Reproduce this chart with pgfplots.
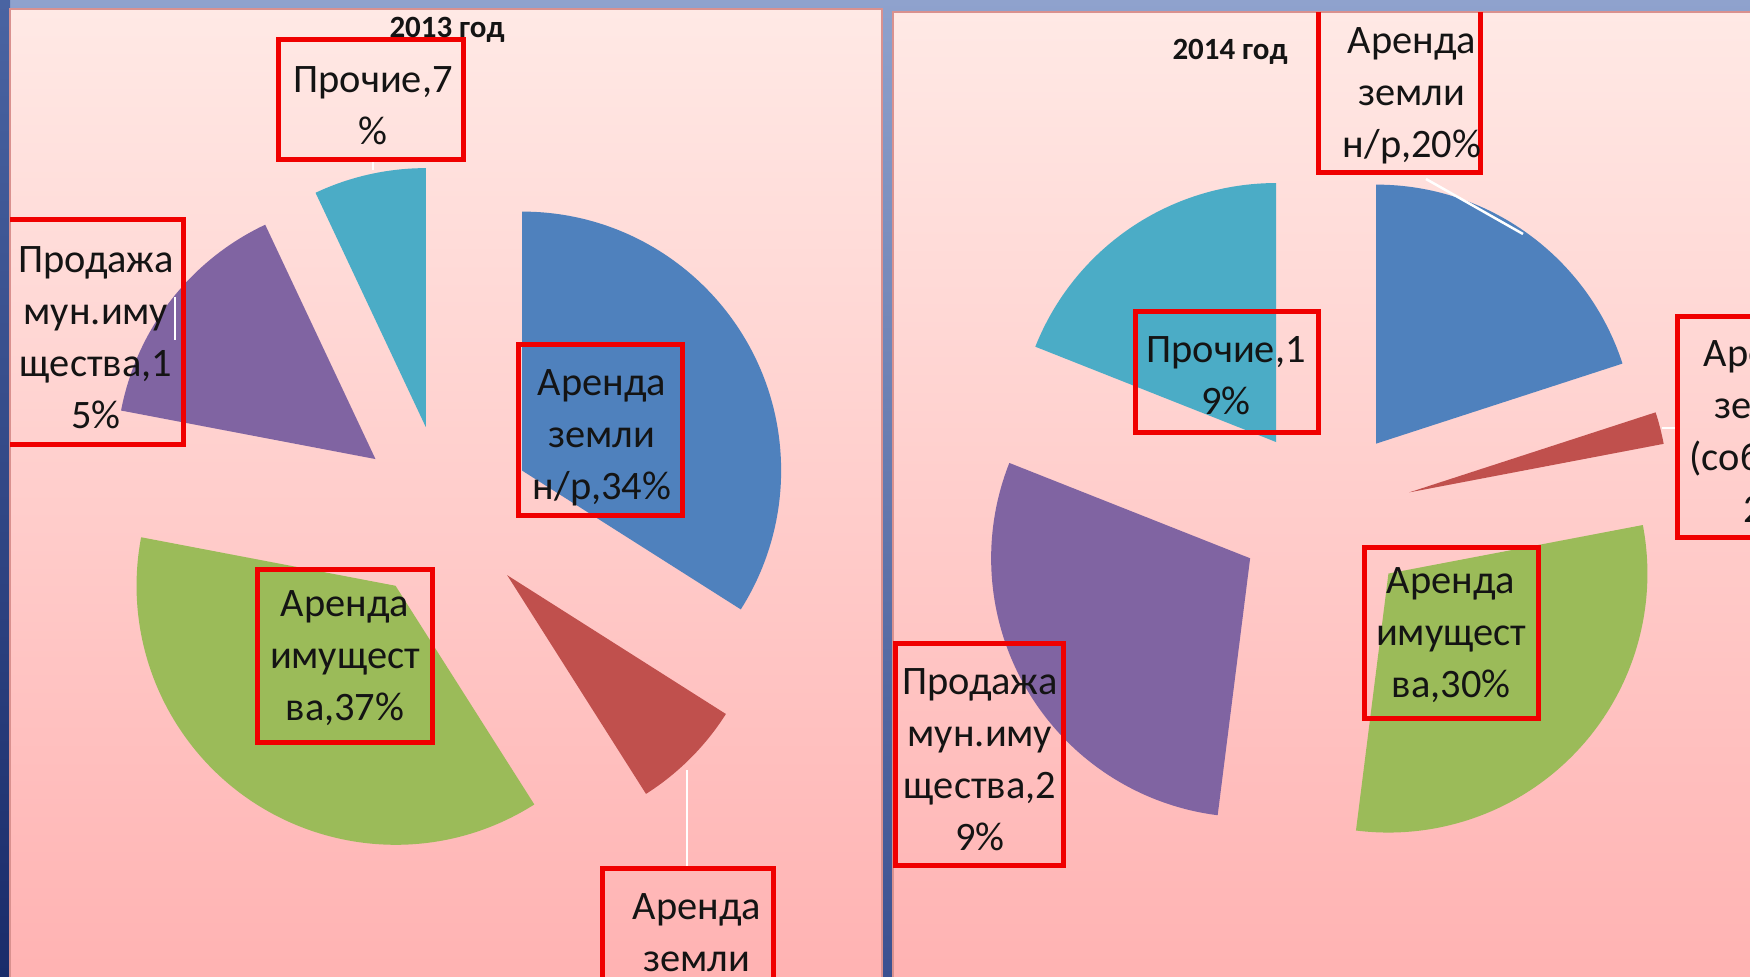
\documentclass[border=0pt]{standalone}
\usepackage{pgfplots}
\pgfplotsset{compat=1.18}
\usetikzlibrary{calc}
\usepackage{fontspec}
\setmainfont{Carlito}

\definecolor{sblue}{HTML}{4F81BD}
\definecolor{sred}{HTML}{C0504D}
\definecolor{sgreen}{HTML}{9BBB59}
\definecolor{spurple}{HTML}{8064A2}
\definecolor{scyan}{HTML}{4BACC6}
\definecolor{boxred}{HTML}{F00000}
\definecolor{pinktop}{HTML}{FFE9E5}
\definecolor{pinkbot}{HTML}{FFB2B2}
\definecolor{bgtop}{HTML}{8FA2CD}
\definecolor{bgbot}{HTML}{3A5090}
\definecolor{edgetop}{HTML}{4A64A2}
\definecolor{edgebot}{HTML}{1A2C6A}
\definecolor{panelborder}{HTML}{D9918F}
\definecolor{txt}{HTML}{141414}

% color, centre x, centre y, start (%), share (%), explosion
\newcommand{\pieslice}[6]{%
  \fill[#1] ($(axis cs:#2,#3)+({90-3.6*(#4+#5/2)}:#6)$) -- ++({90-3.6*(#4)}:25.9mm)
    arc[start angle={90-3.6*(#4)}, end angle={90-3.6*(#4+#5)}, radius=25.9mm] -- cycle;}

\begin{document}
\begin{tikzpicture}
\begin{axis}[
  scale only axis, width=175mm, height=97.6mm,
  xmin=0, xmax=1750, ymin=0, ymax=976, y dir=reverse,
  hide axis, clip=true]
% background
\shade[top color=bgtop, bottom color=bgbot] (axis cs:0,0) rectangle (axis cs:1750,976);
\shade[top color=edgetop, bottom color=edgebot] (axis cs:0,0) rectangle (axis cs:10,976);
\shadedraw[top color=pinktop, bottom color=pinkbot, draw=panelborder, line width=0.15mm] (axis cs:10,9) rectangle (axis cs:882,985);
\shadedraw[top color=pinktop, bottom color=pinkbot, draw=panelborder, line width=0.15mm] (axis cs:893,12) rectangle (axis cs:1760,985);

% 2013
\pieslice{sblue}{445}{513}{0}{34}{8.8mm}
\pieslice{sred}{445}{513}{34}{7}{8.8mm}
\pieslice{sgreen}{445}{513}{41}{37}{8.8mm}
\pieslice{spurple}{445}{513}{78}{15}{8.8mm}
\pieslice{scyan}{445}{513}{93}{7}{8.8mm}
% 2014
\pieslice{sblue}{1325}{514}{0}{20}{8.7mm}
\pieslice{sred}{1325}{514}{20}{2}{8.7mm}
\pieslice{sgreen}{1325}{514}{22}{30}{8.7mm}
\pieslice{spurple}{1325}{514}{52}{29}{8.7mm}
\pieslice{scyan}{1325}{514}{81}{19}{8.7mm}

% leader lines
\draw[white, line width=0.25mm] (axis cs:373,160) -- (axis cs:373,170);
\draw[white, line width=0.25mm] (axis cs:687,770) -- (axis cs:687,868);
\draw[white, line width=0.25mm] (axis cs:175,297) -- (axis cs:175,340);
\draw[white, line width=0.25mm] (axis cs:1426,179) -- (axis cs:1523,234);
\draw[white, line width=0.25mm] (axis cs:1662,428) -- (axis cs:1677,428);

% label boxes
\begin{scope}[boxred, line width=0.5mm]
\draw (axis cs:278,40) rectangle (axis cs:463,160);
\draw (axis cs:10,220) -- (axis cs:183,220) -- (axis cs:183,445) -- (axis cs:10,445);
\draw (axis cs:518,345) rectangle (axis cs:682,515);
\draw (axis cs:257,569) rectangle (axis cs:432,742);
\draw (axis cs:602,868) rectangle (axis cs:773,1000);
\draw (axis cs:1318,12) -- (axis cs:1318,173) -- (axis cs:1480,173) -- (axis cs:1480,12);
\draw (axis cs:1135,312) rectangle (axis cs:1318,433);
\draw (axis cs:1364,547) rectangle (axis cs:1538,718);
\draw (axis cs:895,643) rectangle (axis cs:1063,865);
\draw (axis cs:1677,317) rectangle (axis cs:1860,537);
\end{scope}

% texts
\begin{scope}[every node/.style={txt, align=center, inner sep=0pt, font=\fontsize{11.5}{14.8}\selectfont}]
\node[font=\bfseries\fontsize{8.8}{10}\selectfont] at (axis cs:447,30) {2013 год};
\node at (axis cs:373,106) {Прочие,7\\\%};
\node at (axis cs:96,338) {Продажа\\мун.иму\\щества,1\\5\%};
\node at (axis cs:602,438) {Аренда\\земли\\н/р,34\%};
\node at (axis cs:345,658) {Аренда\\имущест\\ва,37\%};
\node at (axis cs:697,985) {Аренда\\земли\\(собств.),\\7\%};
\node[font=\bfseries\fontsize{8.8}{10}\selectfont] at (axis cs:1230,52) {2014 год};
\node at (axis cs:1412,96) {Аренда\\земли\\н/р,20\%};
\node at (axis cs:1226,376) {Прочие,1\\9\%};
\node at (axis cs:1451,635) {Аренда\\имущест\\ва,30\%};
\node at (axis cs:980,760) {Продажа\\мун.иму\\щества,2\\9\%};
\node at (axis cs:1768,432) {Аренда\\земли\\(собств.),\\2\%};
\end{scope}
\end{axis}
\pgfresetboundingbox
\useasboundingbox (current axis.south west) rectangle (current axis.north east);
\end{tikzpicture}
\end{document}
